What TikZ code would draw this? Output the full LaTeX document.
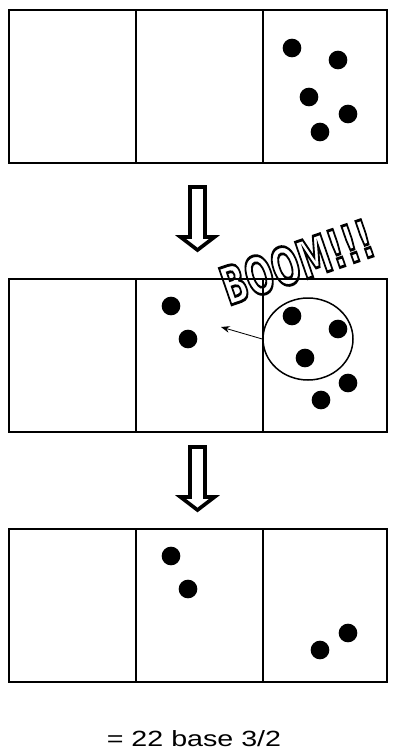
\documentclass[tikz,border=0pt]{standalone}
\usepackage{fontspec}
\setmainfont{Liberation Sans}
\newfontfamily\boomfont{DejaVu Sans}
\usetikzlibrary{arrows.meta,shapes.geometric}
\newcommand{\outlined}[1]{\special{pdf:literal direct q 1 Tr 2.4 w}#1\special{pdf:literal direct Q}}
\tikzset{
  cellline/.style={line width=0.6mm},
  token/.style={circle, fill=black, inner sep=0pt, minimum size=5.6mm},
  bigarrow/.style={line width=1.1mm, line join=miter, fill=white},
}

\begin{document}
\begin{tikzpicture}[x=0.3mm,y=-0.3mm]
  \useasboundingbox (0,0) rectangle (393,748);

  % the three rows of cells
  \foreach \t in {10,279,529} {
    \draw[cellline] (9,\t) rectangle (387,\t+153);
    \draw[cellline] (136,\t) -- (136,\t+153);
    \draw[cellline] (263,\t) -- (263,\t+153);
  }

  % hollow arrows between rows
  \foreach \d in {0,260} {
    \draw[bigarrow] (190,187+\d) -- (205,187+\d) -- (205,237+\d) -- (214.5,237+\d)
      -- (197.5,250+\d) -- (180.5,237+\d) -- (190,237+\d) -- cycle;
  }

  % row 1
  \node[token] (a1) at (292,48) {};
  \node[token] (a2) at (338,60) {};
  \node[token] (a3) at (309,97) {};
  \node[token] (a4) at (348,114) {};
  \node[token] (a5) at (320,132) {};

  % row 2
  \node[token] (b1) at (171,306) {};
  \node[token] (b2) at (188,339) {};
  \node[ellipse, draw, line width=0.45mm, minimum width=90*0.3mm, minimum height=82*0.3mm, inner sep=0pt] (blast) at (308,339) {};
  \node[token] (b3) at (292,316) {};
  \node[token] (b4) at (338,329) {};
  \node[token] (b5) at (305,358) {};
  \node[token] (b6) at (348,383) {};
  \node[token] (b7) at (321,400) {};
  \coordinate (shot) at (221,327);
  \draw[line width=0.25mm, -{Stealth[length=2.6mm,width=2mm]}] (blast.west) -- (shot);
  \node[rotate=19, xscale=0.62, inner sep=0pt, font=\boomfont\bfseries\fontsize{45}{45}\selectfont] (boom) at (297,262) {\outlined{BOOM!!!}};

  % row 3
  \node[token] (c1) at (171,556) {};
  \node[token] (c2) at (188,589) {};
  \node[token] (c3) at (320,650) {};
  \node[token] (c4) at (348,633) {};

  \node[anchor=base, xscale=1.3, inner sep=0pt, font=\fontsize{18.8}{20}\selectfont] (result) at (194,746) {= 22 base 3/2};
\end{tikzpicture}
\end{document}
